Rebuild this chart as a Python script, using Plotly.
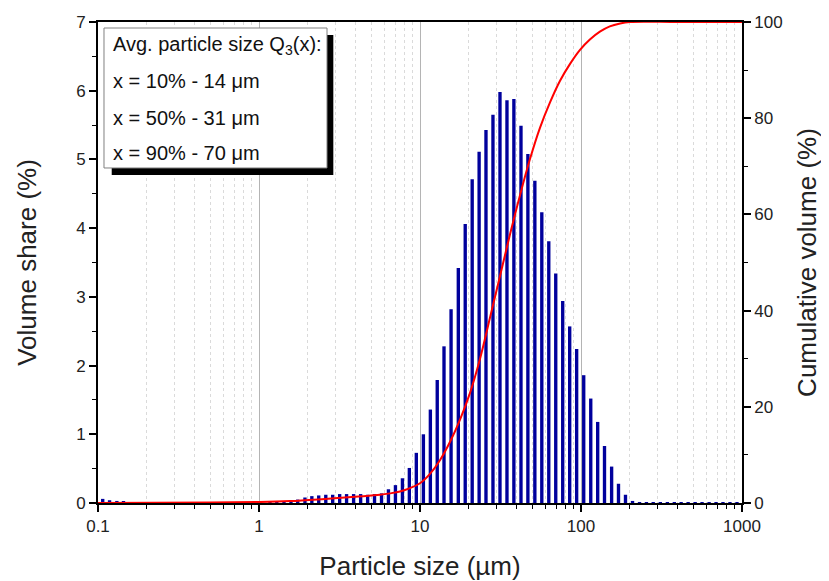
import plotly.graph_objects as go

# Particle size classes (µm) and volume share (%)
sizes = [0.107, 0.118, 0.131, 0.144, 0.159, 0.176, 0.195, 0.215, 0.237, 0.262,
         0.290, 0.320, 0.354, 0.391, 0.432, 0.477, 0.527, 0.582, 0.644, 0.711,
         0.786, 0.868, 0.959, 1.06, 1.17, 1.29, 1.43, 1.58, 1.74, 1.93,
         2.13, 2.35, 2.60, 2.87, 3.17, 3.50, 3.87, 4.28, 4.73, 5.22,
         5.77, 6.37, 7.04, 7.78, 8.59, 9.49, 10.5, 11.6, 12.8, 14.1,
         15.6, 17.3, 19.1, 21.1, 23.3, 25.7, 28.4, 31.4, 34.7, 38.3,
         42.4, 46.8, 51.7, 57.1, 63.1, 69.7, 77.0, 85.1, 94.0, 104,
         115, 127, 140, 155, 171, 189, 209, 231, 255, 281,
         311, 344, 380, 419, 463, 512, 565, 625, 690, 762,
         842, 931]
volume_share = [0.06, 0.04, 0.03, 0.02, 0, 0, 0, 0, 0, 0,
                0, 0, 0, 0, 0, 0, 0, 0, 0, 0,
                0, 0, 0, 0, 0.01, 0.01, 0.02, 0.03, 0.05, 0.08,
                0.10, 0.11, 0.12, 0.12, 0.13, 0.13, 0.13, 0.13, 0.12, 0.13,
                0.14, 0.20, 0.26, 0.36, 0.51, 0.73, 1.00, 1.36, 1.79, 2.28,
                2.82, 3.42, 4.06, 4.71, 5.11, 5.43, 5.65, 5.98, 5.86, 5.88,
                5.49, 5.08, 4.69, 4.23, 3.81, 3.34, 2.94, 2.57, 2.24, 1.86,
                1.52, 1.18, 0.83, 0.53, 0.28, 0.12, 0.03, 0.01, 0.01, 0.01,
                0.01, 0.01, 0.01, 0.01, 0.01, 0.01, 0.01, 0.01, 0.01, 0.01,
                0.01, 0.01]
assert len(sizes) == len(volume_share)

# Cumulative volume curve (µm, %)
cum_sizes = [0.1, 0.5, 1.0, 1.56, 2.46, 3.95, 5.64, 6.51, 7.51, 8.67,
             10.0, 11.5, 13.3, 15.4, 17.7, 20.4, 23.6, 27.2, 31.4, 36.2,
             41.8, 48.2, 55.6, 64.2, 74.1, 85.5, 98.6, 114, 131, 151,
             175, 201, 400, 1000]
cum_volume = [0.0, 0.1, 0.2, 0.4, 0.8, 1.3, 1.7, 2.0, 2.4, 3.1,
              4.1, 6.0, 8.9, 12.8, 17.3, 22.8, 30.0, 38.5, 47.2, 55.8,
              64.0, 71.5, 78.0, 83.3, 87.8, 91.3, 94.2, 96.4, 98.0, 99.1,
              99.7, 100, 100, 100]

x_tickvals = [0.1, 1, 10, 100, 1000]
x_ticktext = ["0.1", "1", "10", "100", "1000"]
x_minor = [m * d for d in [0.1, 1, 10, 100] for m in range(2, 10)]

legend_lines = ["Avg. particle size Q<sub>3</sub>(x):",
                "x = 10% - 14 μm",
                "x = 50% - 31 μm",
                "x = 90% - 70 μm"]

FONT = "Arial, Liberation Sans, sans-serif"

# bar widths on a log axis are given in data units: keep a constant visual width
BAR_REL_WIDTH = 0.048
bar_widths = [s * BAR_REL_WIDTH for s in sizes]

fig = go.Figure()
fig.add_trace(go.Bar(x=sizes, y=volume_share, width=bar_widths,
                     marker=dict(color="#00009C", line=dict(width=0)),
                     showlegend=False))
fig.add_trace(go.Scatter(x=cum_sizes, y=cum_volume, yaxis="y2", mode="lines",
                         line=dict(color="#FF0000", width=2, shape="spline", smoothing=1.0),
                         showlegend=False))

# the page body adds an 8px offset, so the figure is sized to fit the window
fig.update_layout(
    width=821, height=573,
    margin=dict(l=90, r=87, t=14, b=78),
    paper_bgcolor="white", plot_bgcolor="white",
    font=dict(family=FONT, size=17, color="#222222"),
    xaxis=dict(type="log", range=[-1, 3], automargin=False,
               tickvals=x_tickvals, ticktext=x_ticktext,
               ticks="outside", ticklen=7, tickwidth=1.5, tickcolor="black",
               showline=True, linecolor="black", linewidth=1.8, mirror=True,
               showgrid=True, gridcolor="#B4B4B4", gridwidth=1,
               minor=dict(tickvals=x_minor, ticks="outside", ticklen=4, tickwidth=1.2,
                          tickcolor="black", showgrid=True, gridcolor="#DADADA",
                          griddash="dot", gridwidth=1),
               title=dict(text="Particle size (µm)", font=dict(size=26), standoff=22),
               tickfont=dict(size=17), zeroline=False),
    yaxis=dict(range=[0, 7], dtick=1, ticks="outside", ticklen=7, tickwidth=1.5,
               tickcolor="black", showline=True, linecolor="black", linewidth=1.8,
               showgrid=False, zeroline=False, automargin=False,
               minor=dict(dtick=0.5, ticks="outside", ticklen=4, tickwidth=1.2, tickcolor="black"),
               title=dict(text="Volume share (%)", font=dict(size=26), standoff=32),
               tickfont=dict(size=17)),
    yaxis2=dict(range=[0, 100], dtick=20, overlaying="y", side="right",
                ticks="outside", ticklen=7, tickwidth=1.5, tickcolor="black",
                showline=True, linecolor="black", linewidth=1.8,
                showgrid=False, zeroline=False, automargin=False,
                minor=dict(dtick=10, ticks="outside", ticklen=4, tickwidth=1.2, tickcolor="black"),
                title=dict(text="Cumulative volume (%)", font=dict(size=26), standoff=16),
                tickfont=dict(size=17)),
)

# Text box with shadow
fig.add_shape(type="rect", xref="paper", yref="paper", x0=0.0213, x1=0.3654, y0=0.6819, y1=0.973,
              fillcolor="black", line=dict(width=0), layer="above")
fig.add_shape(type="rect", xref="paper", yref="paper", x0=0.0093, x1=0.3556, y0=0.6965, y1=0.9875,
              fillcolor="white", line=dict(color="#808080", width=1), layer="above")
for txt, yp in zip(legend_lines, [0.952, 0.877, 0.800, 0.728]):
    fig.add_annotation(text=txt, xref="paper", yref="paper", x=0.0202, y=yp,
                       xanchor="left", yanchor="middle", showarrow=False,
                       font=dict(size=20, color="#111111", family=FONT))

fig.write_html("out.html")
